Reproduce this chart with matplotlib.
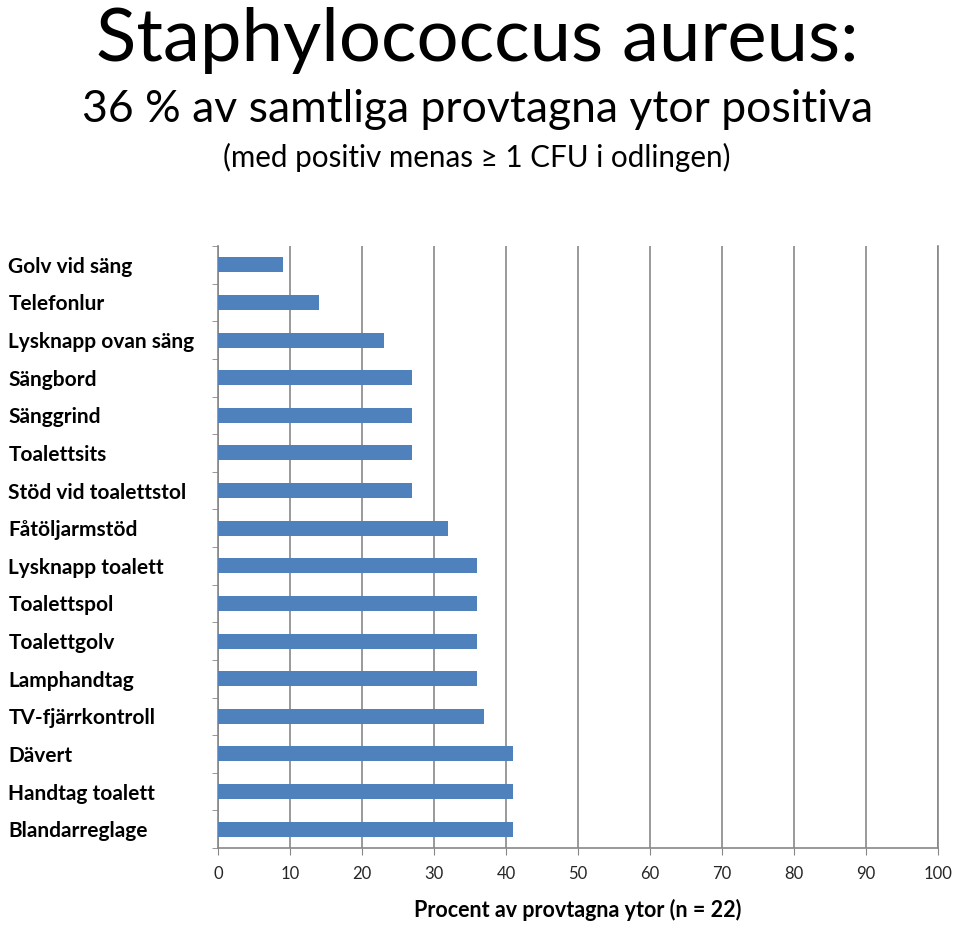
import matplotlib
matplotlib.use("Agg")
import matplotlib.pyplot as plt
from matplotlib.ticker import MultipleLocator

plt.rcParams["font.family"] = ["Lato", "DejaVu Sans"]

ytor = [
    "Golv vid säng", "Telefonlur", "Lysknapp ovan säng", "Sängbord",
    "Sänggrind", "Toalettsits", "Stöd vid toalettstol", "Fåtöljarmstöd",
    "Lysknapp toalett", "Toalettspol", "Toalettgolv", "Lamphandtag",
    "TV-fjärrkontroll", "Dävert", "Handtag toalett", "Blandarreglage",
]
procent = [9, 14, 23, 27, 27, 27, 27, 32, 36, 36, 36, 36, 37, 41, 41, 41]
xticks = list(range(0, 101, 10))

grid_col = "#878787"
bar_col = "#4f81bd"

fig = plt.figure(figsize=(9.6, 9.32), dpi=100)
ax = fig.add_axes([218 / 960, 1 - 848 / 932, 720 / 960, 602 / 932])

pos = list(range(len(ytor)))
ax.barh(pos, procent, height=0.4, color=bar_col, zorder=3)
ax.set_ylim(len(ytor) - 0.5, -0.5)
ax.set_xlim(0, 100)

ax.set_xticks(xticks)
ax.set_xticklabels([str(t) for t in xticks], fontsize=12, color="#262626")
ax.set_yticks(pos)
ax.set_yticklabels(ytor, fontsize=15, fontweight="bold", ha="left")
ax.tick_params(axis="y", which="major", length=0, pad=151)
ax.yaxis.set_minor_locator(MultipleLocator(1, offset=0.5))
ax.tick_params(axis="y", which="minor", length=4, color=grid_col, direction="out")
ax.tick_params(axis="x", length=5, color=grid_col, direction="out", pad=8)

ax.grid(axis="x", color=grid_col, linewidth=1.2, zorder=0)
ax.spines["top"].set_visible(False)
for s in ["left", "bottom", "right"]:
    ax.spines[s].set_color(grid_col)
    ax.spines[s].set_linewidth(1.2)

ax.set_xlabel("Procent av provtagna ytor (n = 22)", fontsize=15.5,
              fontweight="bold", labelpad=12)

fig.text(0.497, 1 - 61 / 932, "Staphylococcus aureus:", fontsize=53.5,
         ha="center", va="baseline")
fig.text(0.497, 1 - 122 / 932, "36 % av samtliga provtagna ytor positiva",
         fontsize=32, ha="center", va="baseline")
fig.text(0.497, 1 - 167 / 932, "(med positiv menas ≥ 1 CFU i odlingen)",
         fontsize=21.3, ha="center", va="baseline")

fig.savefig("out.png", dpi=100)
